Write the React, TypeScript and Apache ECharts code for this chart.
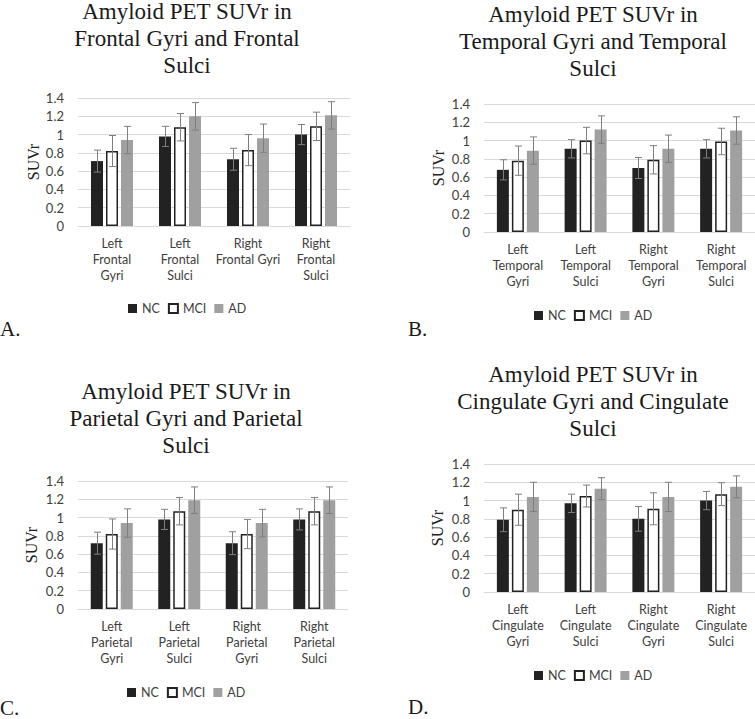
import React, { useEffect, useRef } from "react";
import * as echarts from "echarts";

// ---- Data ----
const frontalCategories = ["Left\nFrontal\nGyri", "Left\nFrontal\nSulci", "Right\nFrontal Gyri", "Right\nFrontal\nSulci"];
const frontalNC = [0.71, 0.98, 0.73, 1.0];
const frontalNCErr = [0.12, 0.11, 0.12, 0.11];
const frontalMCI = [0.82, 1.08, 0.83, 1.09];
const frontalMCIErr = [0.17, 0.15, 0.17, 0.155];
const frontalAD = [0.94, 1.2, 0.96, 1.21];
const frontalADErr = [0.15, 0.15, 0.155, 0.15];

const temporalCategories = ["Left\nTemporal\nGyri", "Left\nTemporal\nSulci", "Right\nTemporal\nGyri", "Right\nTemporal\nSulci"];
const temporalNC = [0.68, 0.91, 0.7, 0.91];
const temporalNCErr = [0.11, 0.1, 0.115, 0.1];
const temporalMCI = [0.78, 1.0, 0.79, 0.99];
const temporalMCIErr = [0.16, 0.145, 0.155, 0.145];
const temporalAD = [0.89, 1.12, 0.91, 1.11];
const temporalADErr = [0.15, 0.15, 0.15, 0.15];

const parietalCategories = ["Left\nParietal\nGyri", "Left\nParietal\nSulci", "Right\nParietal\nGyri", "Right\nParietal\nSulci"];
const parietalNC = [0.72, 0.98, 0.72, 0.98];
const parietalNCErr = [0.12, 0.11, 0.125, 0.115];
const parietalMCI = [0.82, 1.07, 0.82, 1.07];
const parietalMCIErr = [0.165, 0.15, 0.16, 0.15];
const parietalAD = [0.94, 1.19, 0.94, 1.19];
const parietalADErr = [0.155, 0.145, 0.15, 0.145];

const cingulateCategories = ["Left\nCingulate\nGyri", "Left\nCingulate\nSulci", "Right\nCingulate\nGyri", "Right\nCingulate\nSulci"];
const cingulateNC = [0.79, 0.97, 0.8, 1.0];
const cingulateNCErr = [0.13, 0.1, 0.135, 0.1];
const cingulateMCI = [0.9, 1.05, 0.91, 1.07];
const cingulateMCIErr = [0.17, 0.12, 0.175, 0.125];
const cingulateAD = [1.04, 1.13, 1.04, 1.15];
const cingulateADErr = [0.16, 0.12, 0.16, 0.12];

const groupNames = ["NC", "MCI", "AD"];
const titles = [
  "Amyloid PET SUVr in\nFrontal Gyri and Frontal\nSulci",
  "Amyloid PET SUVr in\nTemporal Gyri and Temporal\nSulci",
  "Amyloid PET SUVr in\nParietal Gyri and Parietal\nSulci",
  "Amyloid PET SUVr in\nCingulate Gyri and Cingulate\nSulci",
];
const panelLetters = ["A.", "B.", "C.", "D."];
const yTicks = { min: 0, max: 1.4, interval: 0.2 };
const yName = "SUVr";

// ---- Layout / style ----
const panels = [
  { cats: frontalCategories, vals: [frontalNC, frontalMCI, frontalAD], errs: [frontalNCErr, frontalMCIErr, frontalADErr],
    grid: { left: 78, top: 98, width: 272, height: 128 }, nameGap: 37, titleX: 187, titleY: -2, legendLeft: 128, legendTop: 302, letterX: 0, letterY: 329 },
  { cats: temporalCategories, vals: [temporalNC, temporalMCI, temporalAD], errs: [temporalNCErr, temporalMCIErr, temporalADErr],
    grid: { left: 484, top: 104, width: 271, height: 128 }, nameGap: 38, titleX: 593, titleY: 1, legendLeft: 534, legendTop: 309, letterX: 408, letterY: 329 },
  { cats: parietalCategories, vals: [parietalNC, parietalMCI, parietalAD], errs: [parietalNCErr, parietalMCIErr, parietalADErr],
    grid: { left: 78, top: 481, width: 270, height: 128 }, nameGap: 39, titleX: 186, titleY: 378, legendLeft: 127, legendTop: 686, letterX: 0, letterY: 708 },
  { cats: cingulateCategories, vals: [cingulateNC, cingulateMCI, cingulateAD], errs: [cingulateNCErr, cingulateMCIErr, cingulateADErr],
    grid: { left: 484, top: 464, width: 271, height: 128 }, nameGap: 39, titleX: 593, titleY: 361, legendLeft: 534, legendTop: 669, letterX: 408, letterY: 707 },
];

const barColors = ["#222222", "#ffffff", "#a0a0a0"];
const barBorders = ["#222222", "#222222", "#a0a0a0"];
const barWidth = 12;
const barGapPx = 3;
const errColor = "#7f7f7f";
const textColor = "#404040";
const gridColor = "#d9d9d9";
const sans = "Lato";
const serif = "Liberation Serif";

function buildOption() {
  const grid: any[] = [];
  const xAxis: any[] = [];
  const yAxis: any[] = [];
  const series: any[] = [];
  const legend: any[] = [];
  const graphic: any[] = [];

  panels.forEach((p, pi) => {
    grid.push({ ...p.grid, containLabel: false });
    xAxis.push({
      type: "category",
      gridIndex: pi,
      data: p.cats,
      axisLine: { lineStyle: { color: gridColor, width: 1 } },
      axisTick: { show: false },
      axisLabel: { interval: 0, color: textColor, fontFamily: sans, fontSize: 12.5, lineHeight: 16, margin: 9 },
    });
    yAxis.push({
      type: "value",
      gridIndex: pi,
      min: yTicks.min,
      max: yTicks.max,
      interval: yTicks.interval,
      name: yName,
      nameLocation: "middle",
      nameRotate: 90,
      nameGap: p.nameGap,
      nameTextStyle: { fontFamily: serif, fontSize: 16, color: "#222" },
      axisLine: { show: false },
      axisTick: { show: false },
      splitLine: { lineStyle: { color: gridColor, width: 1 } },
      axisLabel: { color: textColor, fontFamily: sans, fontSize: 13, margin: 14 },
    });
    groupNames.forEach((g, gi) => {
      series.push({
        type: "bar",
        name: g,
        xAxisIndex: pi,
        yAxisIndex: pi,
        data: p.vals[gi],
        barWidth,
        barGap: (barGapPx / barWidth) * 100 + "%",
        itemStyle: { color: barColors[gi], borderColor: barBorders[gi], borderWidth: gi === 1 ? 1.5 : 0 },
        z: 2,
      });
    });
    groupNames.forEach((g, gi) => {
      const offset = (gi - 1) * (barWidth + barGapPx);
      series.push({
        type: "custom",
        name: g + " error",
        xAxisIndex: pi,
        yAxisIndex: pi,
        z: 5,
        data: p.vals[gi].map((v, i) => [i, v - p.errs[gi][i], v + p.errs[gi][i]]),
        encode: { x: 0, y: [1, 2] },
        renderItem: (params: any, api: any) => {
          const i = api.value(0);
          const top = api.coord([i, api.value(2)]);
          const bot = api.coord([i, api.value(1)]);
          const cx = Math.round(top[0] + offset) + 0.5;
          const style = { stroke: errColor, lineWidth: 1 };
          return {
            type: "group",
            children: [
              { type: "line", shape: { x1: cx, y1: top[1], x2: cx, y2: bot[1] }, style },
              { type: "line", shape: { x1: cx - 3.5, y1: top[1], x2: cx + 3.5, y2: top[1] }, style },
              { type: "line", shape: { x1: cx - 3.5, y1: bot[1], x2: cx + 3.5, y2: bot[1] }, style },
            ],
          };
        },
      });
    });
    legend.push({
      data: groupNames,
      left: p.legendLeft,
      top: p.legendTop,
      padding: 0,
      icon: "rect",
      itemWidth: 9,
      itemHeight: 9,
      itemGap: 8,
      selectedMode: false,
      textStyle: { color: textColor, fontFamily: sans, fontSize: 12.5 },
    });
    graphic.push({
      type: "text",
      x: p.titleX,
      y: p.titleY,
      style: { text: titles[pi], fill: "#1a1a1a", fontFamily: serif, fontSize: 23, align: "center", verticalAlign: "top", lineHeight: 27 },
    });
    graphic.push({
      type: "text",
      x: p.letterX,
      y: p.letterY,
      style: { text: panelLetters[pi], fill: "#1a1a1a", fontFamily: serif, fontSize: 21, align: "left", verticalAlign: "middle" },
    });
  });

  return { animation: false, backgroundColor: "#ffffff", grid, xAxis, yAxis, series, legend, graphic };
}

export default function App() {
  const ref = useRef<HTMLDivElement>(null);
  useEffect(() => {
    if (!ref.current) return;
    const chart = echarts.init(ref.current, undefined, { renderer: "svg" });
    chart.setOption(buildOption() as any);
    return () => chart.dispose();
  }, []);
  return <div ref={ref} style={{ position: "fixed", left: 0, top: 0, width: 755, height: 719 }} />;
}
